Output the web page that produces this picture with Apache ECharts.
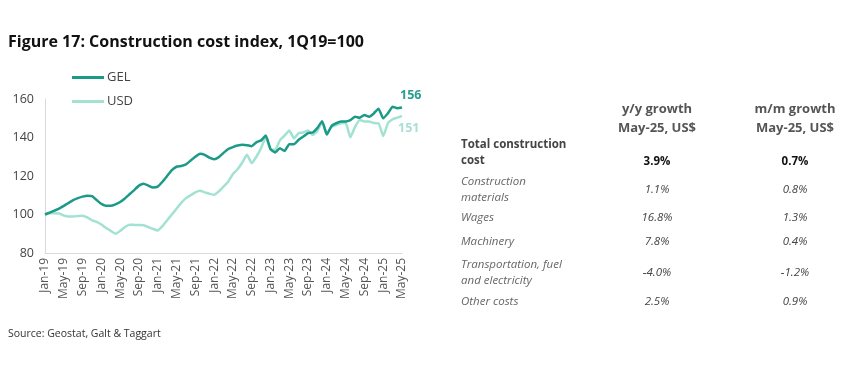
<!DOCTYPE html>
<html>
<head>
<meta charset="utf-8">
<script src="https://cdn.jsdelivr.net/npm/echarts@6/dist/echarts.min.js"></script>
<style>
html,body{margin:0;padding:0;background:#fff;}
#c{width:855px;height:369px;}
</style>
</head>
<body>
<div id="c"></div>
<script>
var categories = [
'Jan-19','Feb-19','Mar-19','Apr-19','May-19','Jun-19','Jul-19','Aug-19','Sep-19','Oct-19','Nov-19','Dec-19',
'Jan-20','Feb-20','Mar-20','Apr-20','May-20','Jun-20','Jul-20','Aug-20','Sep-20','Oct-20','Nov-20','Dec-20',
'Jan-21','Feb-21','Mar-21','Apr-21','May-21','Jun-21','Jul-21','Aug-21','Sep-21','Oct-21','Nov-21','Dec-21',
'Jan-22','Feb-22','Mar-22','Apr-22','May-22','Jun-22','Jul-22','Aug-22','Sep-22','Oct-22','Nov-22','Dec-22',
'Jan-23','Feb-23','Mar-23','Apr-23','May-23','Jun-23','Jul-23','Aug-23','Sep-23','Oct-23','Nov-23','Dec-23',
'Jan-24','Feb-24','Mar-24','Apr-24','May-24','Jun-24','Jul-24','Aug-24','Sep-24','Oct-24','Nov-24','Dec-24',
'Jan-25','Feb-25','Mar-25','Apr-25','May-25'];

var gel = [
100,101,102,103,104.5,106,107.5,108.5,109.3,109.8,109.5,107.5,
105.5,104.5,104.5,105.3,106.5,108.3,110.5,112.7,115,116,115,114,
114.5,117,120,123,124.8,125.2,126,128,130,131.5,131,129.5,
128.7,129.8,132,134,135,135.8,136.2,136,135.5,137.5,138.5,141,
134,132.2,134.4,133,136.5,136.5,138.8,140.5,142.3,142.6,145,148.5,
141.5,146,147.4,148.3,148.3,149,150.8,150.3,151.7,150.8,152.5,155,
150,152.6,156,155.2,155.6];

var usd = [
100,100.6,100.7,100.5,99.5,99,99,99.2,99.4,98.5,97,96.2,
94.8,93,91.5,90,91.5,93.5,94.7,94.6,94.5,94.4,93.5,92.5,
91.7,94,97,100,103,106,108.5,110,111.5,112.3,111.5,110.8,
110.2,112,114.5,117,121,123.5,127,131,126.7,130,134.5,140,
134,133.6,138.5,141,143.6,139.6,142.2,142.6,143.6,141.3,143.5,148,
142.2,145.5,146.5,147.4,147.7,140.1,145.5,149.1,148.3,148.3,147.5,147.4,
140.8,147.4,149.5,150.3,151.2];

var yTicks = [80,100,120,140,160];

var tableHeader = ['y/y growth\nMay-25, US$','m/m growth\nMay-25, US$'];
var rowLabels = ['Total construction\ncost','Construction\nmaterials','Wages','Machinery','Transportation, fuel\nand electricity','Other costs'];
var yoy = ['3.9%','1.1%','16.8%','7.8%','-4.0%','2.5%'];
var mom = ['0.7%','0.8%','1.3%','0.4%','-1.2%','0.9%'];

var FONT = '"Open Sans", sans-serif';
var GEL_C = '#1b9a88';
var USD_C = '#a3e2d3';

var chart = echarts.init(document.getElementById('c'), null, {renderer:'canvas'});

var graphics = [];
graphics.push({type:'text', left:8, top:34, style:{text:'Figure 17: Construction cost index, 1Q19=100', font:'bold 16px ' + FONT, fill:'#111'}});
graphics.push({type:'text', left:8, top:329, style:{text:'Source: Geostat, Galt & Taggart', font:'10.5px ' + FONT, fill:'#333'}});

var colX = [657, 795];
for (var h = 0; h < tableHeader.length; h++) {
  graphics.push({type:'text', x:colX[h], y:100, style:{text:tableHeader[h], font:'bold 13px ' + FONT, fill:'#555', align:'center', verticalAlign:'top', lineHeight:19}});
}
var rowY = [153, 190, 218, 242, 273, 302];
for (var r = 0; r < rowLabels.length; r++) {
  var bold = r === 0;
  var lbl = rowLabels[r];
  graphics.push({type:'text', x:461, y:rowY[r], style:{text:lbl, font:(bold ? 'bold ' : 'italic ') + '11.5px ' + FONT, fill: bold ? '#444' : '#666', align:'left', verticalAlign:'middle', lineHeight:16}});
  var vy = bold ? 162 : rowY[r];
  graphics.push({type:'text', x:colX[0], y:vy, style:{text:yoy[r], font:(bold ? 'bold ' : 'italic ') + '11.5px ' + FONT, fill: bold ? '#111' : '#444', align:'center', verticalAlign:'middle'}});
  graphics.push({type:'text', x:colX[1], y:vy, style:{text:mom[r], font:(bold ? 'bold ' : 'italic ') + '11.5px ' + FONT, fill: bold ? '#111' : '#444', align:'center', verticalAlign:'middle'}});
}

chart.setOption({
  animation:false,
  textStyle:{fontFamily:FONT},
  grid:{left:45, right:453, top:99, bottom:116, containLabel:false},
  legend:{
    orient:'vertical', left:72, top:71, padding:0, itemWidth:32, itemHeight:3, itemGap:11,
    icon:'rect',
    textStyle:{fontSize:13, color:'#444', fontFamily:FONT, padding:[0,0,0,-2]},
    data:['GEL','USD']
  },
  xAxis:{
    type:'category', data:categories, boundaryGap:false,
    axisLine:{lineStyle:{color:'#d9d9d9', width:1}},
    axisTick:{show:false},
    axisLabel:{interval:3, rotate:90, fontSize:12, color:'#555', margin:5, fontFamily:FONT}
  },
  yAxis:{
    type:'value', min:80, max:160, interval:20,
    axisLine:{show:true, lineStyle:{color:'#d9d9d9', width:1}},
    axisTick:{show:false},
    splitLine:{show:false},
    axisLabel:{fontSize:12.5, color:'#444', margin:11, fontFamily:FONT}
  },
  series:[
    {name:'USD', type:'line', data:usd, symbol:'none', smooth:0.15, z:2,
     lineStyle:{color:USD_C, width:2.5}, itemStyle:{color:USD_C},
     endLabel:{show:true, formatter:function(p){return Math.round(p.value);}, color:'#a8e0d4', fontWeight:'bold', fontSize:12.5, offset:[-12,12], fontFamily:FONT}},
    {name:'GEL', type:'line', data:gel, symbol:'none', smooth:0.15, z:3,
     lineStyle:{color:GEL_C, width:2.5}, itemStyle:{color:GEL_C},
     endLabel:{show:true, formatter:function(p){return Math.round(p.value);}, color:'#2a9d8f', fontWeight:'bold', fontSize:12.5, offset:[-10,-12], fontFamily:FONT}}
  ],
  graphic:graphics
});
</script>
</body>
</html>
